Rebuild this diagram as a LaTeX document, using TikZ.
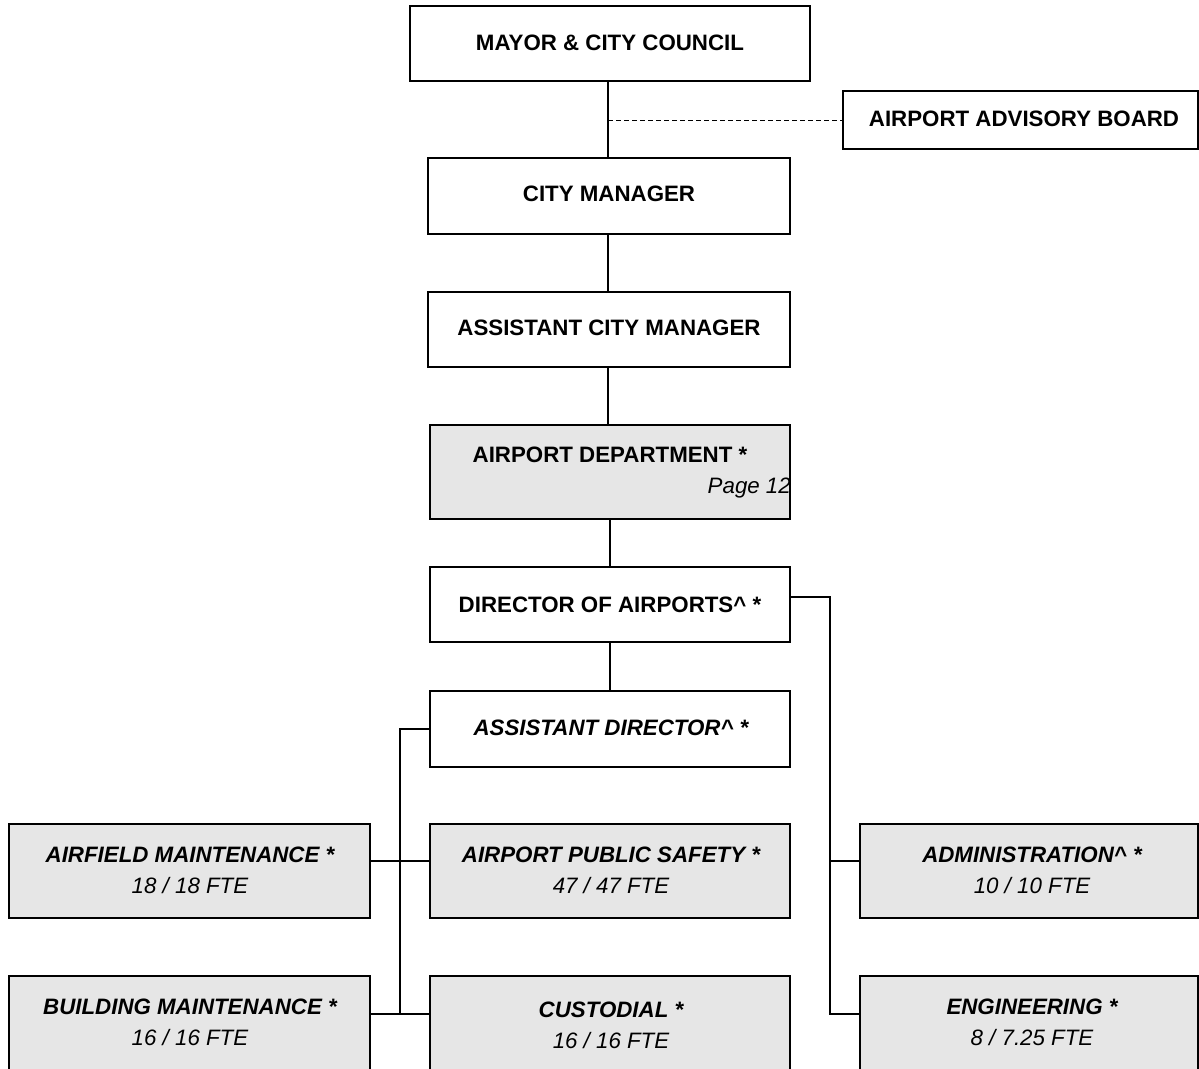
\documentclass[tikz,border=0pt]{standalone}
\usepackage{fontspec}
\setmainfont{Liberation Sans}
\definecolor{boxgray}{HTML}{E6E6E6}
\begin{document}
\begin{tikzpicture}[x=1pt,y=-1pt,
  box/.style={draw=black, line width=1.1pt, inner sep=0pt},
  graybox/.style={box, fill=boxgray},
  conn/.style={draw=black, line width=1.1pt},
  ttl/.style={font=\fontsize{22.3}{26}\selectfont\bfseries, inner sep=0pt},
  ittl/.style={font=\fontsize{22.3}{26}\selectfont\bfseries\itshape, inner sep=0pt},
  sub/.style={font=\fontsize{22.3}{26}\selectfont\itshape, inner sep=0pt}]
\useasboundingbox (0,0) rectangle (1199,1068);
\clip (0,0) rectangle (1199,1068);
% boxes
\node[box, minimum width=400pt, minimum height=75pt] (mayor) at (610,43.5) {};
\node[box, minimum width=355pt, minimum height=58pt] (board) at (1020.5,120) {};
\node[box, minimum width=362pt, minimum height=76pt] (cm) at (609,196) {};
\node[box, minimum width=362pt, minimum height=75pt] (acm) at (609,329.5) {};
\node[graybox, minimum width=360pt, minimum height=94pt] (dept) at (610,472) {};
\node[box, minimum width=360pt, minimum height=75pt] (dir) at (610,604.5) {};
\node[box, minimum width=360pt, minimum height=76pt] (adir) at (610,729) {};
\node[graybox, minimum width=361pt, minimum height=94pt] (afm) at (189.5,871) {};
\node[graybox, minimum width=360pt, minimum height=94pt] (aps) at (610,871) {};
\node[graybox, minimum width=338pt, minimum height=94pt] (adm) at (1029,871) {};
\node[graybox, minimum width=361pt, minimum height=110pt] (bm) at (189.5,1031) {};
\node[graybox, minimum width=360pt, minimum height=110pt] (cus) at (610,1031) {};
\node[graybox, minimum width=338pt, minimum height=110pt] (eng) at (1029,1031) {};
% texts
\node[ttl] (tmayor) at (610,43) {MAYOR \& CITY COUNCIL};
\node[ttl] (tboard) at (1024,119) {AIRPORT ADVISORY BOARD};
\node[ttl] (tcm) at (609,194) {CITY MANAGER};
\node[ttl] (tacm) at (609,328) {ASSISTANT CITY MANAGER};
\node[ttl] (tdept) at (610,455) {AIRPORT DEPARTMENT *};
\node[sub, anchor=east] (tpage) at (791,488) {Page 12};
\node[ttl] (tdir) at (610,605) {DIRECTOR OF AIRPORTS\^{} *};
\node[ittl] (tadir) at (611,728) {ASSISTANT DIRECTOR\^{} *};
\node[ittl] (tafm) at (190,855) {AIRFIELD MAINTENANCE *};
\node[sub] (tafm2) at (190,886) {18 / 18 FTE};
\node[ittl] (taps) at (611,855) {AIRPORT PUBLIC SAFETY *};
\node[sub] (taps2) at (611,886) {47 / 47 FTE};
\node[ittl] (tadm) at (1032,855) {ADMINISTRATION\^{} *};
\node[sub] (tadm2) at (1032,886) {10 / 10 FTE};
\node[ittl] (tbm) at (190,1007) {BUILDING MAINTENANCE *};
\node[sub] (tbm2) at (190,1038) {16 / 16 FTE};
\node[ittl] (tcus) at (611,1010) {CUSTODIAL *};
\node[sub] (tcus2) at (611,1041) {16 / 16 FTE};
\node[ittl] (teng) at (1032,1007) {ENGINEERING *};
\node[sub] (teng2) at (1032,1038) {8 / 7.25 FTE};
% connectors
\coordinate (jb) at (608,120);
\draw[conn] (mayor.south -| jb) -- (cm.north -| jb);
\draw[conn, dashed, line width=0.9pt, dash pattern=on 5pt off 3pt] (jb) -- (board.west);
\draw[conn] (cm.south -| jb) -- (acm.north -| jb);
\draw[conn] (acm.south -| jb) -- (dept.north -| jb);
\draw[conn] (dept.south) -- (dir.north);
\draw[conn] (dir.south) -- (adir.north);
% left bus
\coordinate (lb) at (400,729);
\coordinate (lbe) at (400,1014);
\draw[conn] (adir.west) -- (lb) -- (lbe);
\draw[conn] (afm.east |- 0,861) -- (aps.west |- 0,861);
\draw[conn] (bm.east |- lbe) -- (cus.west |- lbe);
% right bus
\coordinate (rb) at (830,597);
\coordinate (rbe) at (830,1014);
\draw[conn] (dir.east |- rb) -- (rb) -- (rbe) -- (eng.west |- rbe);
\draw[conn] (830,861) -- (adm.west |- 0,861);
\end{tikzpicture}
\end{document}
